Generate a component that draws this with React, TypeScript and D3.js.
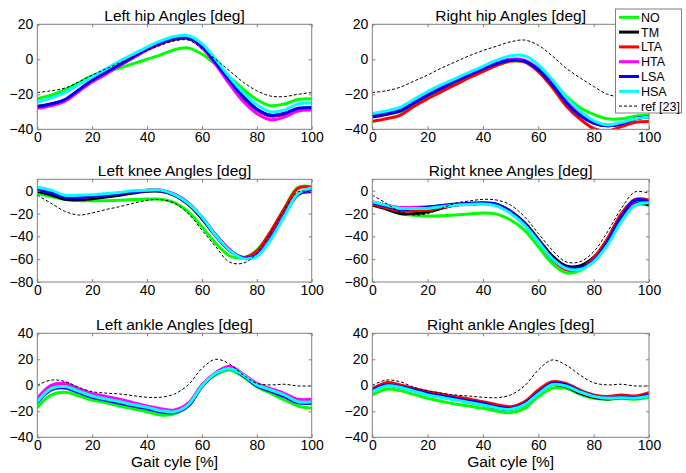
import React, { useEffect, useRef } from 'react'
import * as d3 from 'd3'

// gait cycle samples [%]
const gait = [0, 5, 10, 15, 20, 25, 30, 35, 40, 45, 50, 55, 60, 65, 70, 75, 80, 85, 90, 95, 100]

const seriesNames = ['NO', 'TM', 'LTA', 'HTA', 'LSA', 'HSA']
const seriesColors = ['#00ff00', '#000000', '#ff0000', '#ff00ff', '#0000ff', '#00ffff']
const refName = 'ref [23]'

const titles = [
  'Left hip Angles [deg]', 'Right hip Angles [deg]',
  'Left knee Angles [deg]', 'Right knee Angles [deg]',
  'Left ankle Angles [deg]', 'Right ankle Angles [deg]'
]
const xLabel = 'Gait cyle [%]'
const xTicks = [0, 20, 40, 60, 80, 100]
const hipTicks = [-40, -20, 0, 20]
const kneeTicks = [-80, -60, -40, -20, 0]
const ankleTicks = [-40, -20, 0, 20, 40]

// rows ordered like seriesNames: NO, TM, LTA, HTA, LSA, HSA
const leftHip = [
  [-22.5, -20.5, -17.5, -13.5, -9.5, -7, -5, -2.5, 0, 2.5, 5.5, 6.5, 3, -3, -10, -17, -23, -26.5, -25.5, -23, -22.5],
  [-27, -25.5, -23.5, -18, -12.5, -8, -3.5, 1, 5.5, 9, 11.5, 12, 7, -2, -12, -21, -28.5, -32, -31, -28.5, -28],
  [-27.5, -26, -23.5, -18, -12.5, -8, -3.5, 1, 5.5, 9, 12, 12.5, 7.5, -2, -12.5, -22, -29, -32.5, -31.5, -28.5, -28.5],
  [-28, -26.5, -24, -18.5, -13, -8.5, -3.5, 1, 5.5, 9.5, 12, 12.5, 6.5, -3, -14, -24, -31, -34.5, -33, -29.5, -29],
  [-27, -25.5, -23, -17.5, -12, -7.5, -3, 1.5, 6, 9.5, 12, 12.5, 7.5, -2, -12, -21.5, -28.5, -32, -31, -28, -27.5],
  [-24.5, -22, -19, -14.5, -10, -5.5, -1, 3, 7, 10.5, 13, 13.5, 9, 0, -10, -19, -26, -30, -29, -25.5, -25]
]
const leftHipRef = [-19, -18, -16.5, -13, -9, -5.5, -2, 1.5, 5, 8, 10.5, 11, 6, 0, -6.5, -13, -18, -21, -21.3, -20, -19]

const rightHip = [
  [-32, -31, -30, -26, -21.5, -17.5, -14, -10, -6.5, -3.5, -1, -1.5, -5, -12, -21, -27.5, -31.5, -34, -34, -32.5, -32],
  [-33, -31.5, -29.5, -25, -20.5, -16.5, -12.5, -9, -5.5, -2.5, -0.5, -1, -6, -14, -24, -31.5, -36.5, -38, -37, -34, -33],
  [-35.5, -34, -32, -27, -22.5, -18.5, -14.5, -10.5, -7, -3.5, -1, -1.5, -7, -16, -26.5, -34, -39.5, -41, -38.5, -36, -35.5],
  [-32.5, -31, -29, -24.5, -20, -16, -12, -8.5, -5, -2, 0, -0.5, -5.5, -13.5, -23.5, -31, -36, -37.5, -37, -34, -33],
  [-32.5, -31, -29.5, -25, -20.5, -16.5, -12.5, -9, -5.5, -2.5, -0.5, -1, -6, -14.5, -24.5, -32, -36.5, -38, -37, -34, -33],
  [-31, -29.5, -27.5, -23, -18.5, -14.5, -11, -7.5, -4, -0.5, 2, 2, -3, -11.5, -21.5, -29.5, -35, -37.5, -36, -34, -33]
]
const rightHipRef = [-19, -18, -16, -12.5, -9, -5, -1.5, 2, 5, 7.5, 10, 11, 8, 2, -5, -10.5, -15.5, -20, -21.5, -21, -20]

const leftKnee = [
  [-2.5, -5, -7.5, -8.5, -8.8, -8.7, -8.3, -7.8, -7.3, -7.5, -10.5, -18.5, -31.5, -46, -57, -59, -52, -36, -15.5, 3, 3.5],
  [-0.5, -3.5, -7.5, -8, -7, -5.5, -4, -2, -0.5, -0.5, -4, -12, -24.5, -39.5, -52, -58.5, -55, -40, -20, -3, -1],
  [1, -1.5, -5, -6, -5, -4, -2.5, -1, 0.5, 0.5, -3.5, -11, -23.5, -38.5, -51.5, -58.5, -53, -36, -16, 2, 3],
  [1, -1.5, -5, -5.5, -5, -3.5, -2, -0.5, 0.5, 0.5, -3, -10.5, -23, -38.5, -51.5, -59, -56, -41, -21, -3, 0],
  [0.5, -2, -5.5, -6, -5, -4, -2.5, -1, 0, 0, -3.5, -11, -23.5, -39, -52, -59, -56.5, -42, -21.5, -3.5, 0.5],
  [3, 0.5, -4, -4, -3.5, -2.5, -1.5, 0, 0.5, 0.5, -3.5, -11, -23, -39, -52, -59.5, -57.5, -43, -22.5, -2.5, 2.5]
]
const leftKneeRef = [-3.8, -11, -18, -21.3, -19.5, -16.5, -14, -11, -8.5, -7.8, -11, -20, -34.5, -49, -62.5, -63.5, -55, -37, -17, -1, -1.5]

const rightKnee = [
  [-11, -15.5, -20, -21.5, -22.2, -22, -21.3, -20.5, -19.5, -20.5, -25.7, -34.5, -49, -63.7, -72, -70, -60.8, -44.7, -25.7, -12.6, -12.6],
  [-12.6, -16, -20, -20, -18.4, -15.5, -12.5, -11.5, -11, -12, -18, -28, -42.5, -57, -66, -66, -58.5, -43, -24, -10.5, -12.6],
  [-11.7, -15, -17.8, -17.5, -16.9, -15, -12.5, -11.5, -11, -12.5, -18.5, -29, -44, -60, -69, -68.5, -59, -42, -20, -7.6, -8.2],
  [-9.6, -12.5, -14.6, -14.5, -14, -13.5, -12.5, -12, -11.5, -13, -19.5, -30, -44.5, -59.5, -68, -68.5, -61, -45.5, -24.5, -9, -9.6],
  [-10.5, -13.5, -16.4, -15.5, -14.5, -13, -11.7, -11, -10.5, -12, -18.5, -29, -43.5, -59, -66.7, -67.5, -61.5, -44.7, -22.8, -8.2, -9.6],
  [-9.6, -12.6, -15.5, -15.5, -15.5, -14, -12.6, -12, -11.7, -13.5, -20, -30, -44.7, -59.4, -68, -69, -62.3, -47.7, -27, -12.6, -10.5]
]
const rightKneeRef = [-3.8, -11, -18.4, -21.3, -20, -15.5, -11, -9, -7.6, -8.2, -12.6, -22.8, -37.4, -52, -62.3, -62.3, -53.5, -36, -15.5, -1, -2.3]

const leftAnkle = [
  [-17, -7.5, -5.4, -8, -11.3, -13.5, -15.9, -18, -20.3, -22.8, -22, -15, 0.3, 8, 11.8, 6.7, -1, -6, -11.3, -15.9, -17.7],
  [-12, -2, -0.5, -4, -8, -10.5, -12.5, -15, -17, -19.5, -20.5, -15.5, -1, 9, 13.5, 7.5, 0, -4, -8, -12.5, -12.5],
  [-11, -1, 0.5, -3.5, -7.5, -10, -12, -14.5, -16.5, -19, -20, -15, -0.5, 9.5, 14, 8, 0.5, -3.5, -7.5, -12, -12],
  [-10, 0, 1.5, -2.5, -6.2, -8.5, -10.8, -13.3, -15.9, -18, -19, -13.8, 0.3, 9.7, 14.4, 8.7, 1.5, -2.5, -6.2, -10.8, -10.8],
  [-13.5, -3.5, -2, -5.5, -9.2, -11.5, -13.8, -16, -18, -20.5, -21, -16, -1, 9, 13, 7.5, -0.5, -4.5, -8.7, -13.5, -14],
  [-12.6, -2.5, -1, -4.5, -8.2, -10.5, -12.6, -15, -17, -19.5, -20.3, -15, -0.5, 9.2, 13, 8, 0.3, -3.5, -7.4, -12.6, -12.6]
]
const leftAnkleRef = [0, 4, 3, -1.5, -4.9, -6, -6.7, -8, -9.2, -9.2, -6.7, 0.3, 13, 20, 16.4, 8, 1.5, 0.3, 0.8, -0.5, -0.5]

const rightAnkle = [
  [-7.4, -3, -4.1, -7, -10, -12.3, -14.4, -16, -17.7, -20, -21, -17.7, -8.7, -2.3, -2.3, -6.7, -10, -10.8, -10, -10.8, -9.2],
  [-4.5, 0, -1.5, -4, -7, -9, -11, -13, -15, -17.5, -18.5, -15, -6.5, 0.5, -1, -6, -9.2, -10.5, -9.5, -10, -8],
  [-3, 2, 0.3, -2.5, -4.9, -6.8, -8.7, -10.6, -12.6, -15, -16.4, -12.6, -3.6, 2.8, 1.5, -3.6, -7.4, -8.7, -7.4, -8.2, -5.6],
  [-4, 0.5, -1, -4, -6.8, -8.8, -10.8, -12.8, -14.8, -17, -18, -14.5, -6, 1, 0, -5, -8.5, -10, -9, -9.5, -7.5],
  [-3.5, 0.3, -1, -3.5, -6.2, -8.2, -10, -12, -13.8, -16.5, -17.7, -14, -5.6, 1.5, 0.5, -4.5, -8.2, -10, -9, -9.5, -7.4],
  [-4.9, -0.5, -1.5, -4.5, -7.4, -9.3, -11.3, -13.2, -15.1, -17.5, -18.5, -15, -6.7, 0.5, -0.5, -5, -8.5, -10, -9.5, -10, -8.2]
]
const rightAnkleRef = [0, 4, 2.8, -1.5, -4.1, -6, -7.4, -8.3, -9.2, -9.5, -7.4, -0.5, 11.8, 19.5, 15.6, 8, 2, 0.3, 0.8, -0.5, -0.5]

// layout of the 3x2 grid (pixels)
const colX = [[37.3, 311.7], [372.3, 649]]
const rowY = [[24.3, 129.3], [179.3, 282], [333.3, 437.3]]
const rowDomain = [[-40, 20], [-80, 10], [-40, 40]]
const rowTicks = [hipTicks, kneeTicks, ankleTicks]

const font = 'Liberation Sans, Arial, Helvetica, sans-serif'
const frameColor = '#808080'

export default function App() {
  const svgRef = useRef<SVGSVGElement>(null)

  useEffect(() => {
    const svg = d3.select(svgRef.current)
    svg.selectAll('*').remove()

    const panels = [
      { data: leftHip, ref: leftHipRef },
      { data: rightHip, ref: rightHipRef },
      { data: leftKnee, ref: leftKneeRef },
      { data: rightKnee, ref: rightKneeRef },
      { data: leftAnkle, ref: leftAnkleRef },
      { data: rightAnkle, ref: rightAnkleRef }
    ]

    panels.forEach((p, i) => {
      const col = i % 2
      const row = Math.floor(i / 2)
      const [x0, x1] = colX[col]
      const [y0, y1] = rowY[row]

      const x = d3.scaleLinear().domain([0, 100]).range([x0, x1])
      const y = d3.scaleLinear().domain(rowDomain[row]).range([y1, y0])

      const g = svg.append('g')

      // clip the curves to the axes box
      const clipId = 'clip' + i
      g.append('clipPath').attr('id', clipId)
        .append('rect')
        .attr('x', x0).attr('y', y0)
        .attr('width', x1 - x0).attr('height', y1 - y0)

      const line = d3.line<number>()
        .x((d, j) => x(gait[j]))
        .y(d => y(d))
        .curve(d3.curveCatmullRom.alpha(0.5))

      const plot = g.append('g').attr('clip-path', `url(#${clipId})`)

      p.data.forEach((vals, k) => {
        plot.append('path')
          .attr('d', line(vals))
          .attr('fill', 'none')
          .attr('stroke', seriesColors[k])
          .attr('stroke-width', 3)
          .attr('stroke-linejoin', 'round')
      })

      plot.append('path')
        .attr('d', line(p.ref))
        .attr('fill', 'none')
        .attr('stroke', '#000')
        .attr('stroke-width', 1)
        .attr('stroke-dasharray', '3,2')

      // axes, ticks pointing inward like matlab
      const styleAxis = (a: any) => {
        a.select('.domain').remove()
        a.selectAll('line').attr('stroke', frameColor)
        a.selectAll('text').attr('fill', '#000').style('font-family', font).style('font-size', '14px')
      }

      g.append('g')
        .attr('transform', `translate(0,${y1})`)
        .call(d3.axisBottom(x).tickValues(xTicks).tickSizeInner(-3).tickSizeOuter(0).tickPadding(3))
        .call(styleAxis)
      g.append('g')
        .attr('transform', `translate(0,${y0})`)
        .call(d3.axisTop(x).tickValues(xTicks).tickSizeInner(-3).tickSizeOuter(0).tickFormat(() => ''))
        .call(styleAxis)
      g.append('g')
        .attr('transform', `translate(${x0},0)`)
        .call(d3.axisLeft(y).tickValues(rowTicks[row]).tickSizeInner(-3).tickSizeOuter(0).tickPadding(4))
        .call(styleAxis)
      g.append('g')
        .attr('transform', `translate(${x1},0)`)
        .call(d3.axisRight(y).tickValues(rowTicks[row]).tickSizeInner(-3).tickSizeOuter(0).tickFormat(() => ''))
        .call(styleAxis)

      g.append('rect')
        .attr('x', x0).attr('y', y0)
        .attr('width', x1 - x0).attr('height', y1 - y0)
        .attr('fill', 'none')
        .attr('stroke', frameColor)

      g.append('text')
        .attr('x', (x0 + x1) / 2)
        .attr('y', y0 - 3)
        .attr('text-anchor', 'middle')
        .style('font-family', font)
        .style('font-size', '15.5px')
        .text(titles[i])

      if (row === 2) {
        g.append('text')
          .attr('x', (x0 + x1) / 2)
          .attr('y', 467)
          .attr('text-anchor', 'middle')
          .style('font-family', font)
          .style('font-size', '15.5px')
          .text(xLabel)
      }
    })

    // legend in the upper right corner
    const lg = svg.append('g')
    lg.append('rect')
      .attr('x', 615.5).attr('y', 9)
      .attr('width', 66).attr('height', 104)
      .attr('fill', '#fff')
      .attr('stroke', frameColor)

    const names = [...seriesNames, refName]
    names.forEach((n, k) => {
      const cy = 17.3 + k * 14.8
      lg.append('line')
        .attr('x1', 619).attr('x2', 639)
        .attr('y1', cy).attr('y2', cy)
        .attr('stroke', k < seriesColors.length ? seriesColors[k] : '#000')
        .attr('stroke-width', k < seriesColors.length ? 3 : 1)
        .attr('stroke-dasharray', k < seriesColors.length ? null : '3,2')
      lg.append('text')
        .attr('x', 641).attr('y', cy + 4.5)
        .style('font-family', font)
        .style('font-size', '12.5px')
        .text(n)
    })
  }, [])

  return (
    <svg
      ref={svgRef}
      width={686}
      height={473}
      style={{ position: 'absolute', left: 0, top: 0, background: '#fff' }}
    />
  )
}
